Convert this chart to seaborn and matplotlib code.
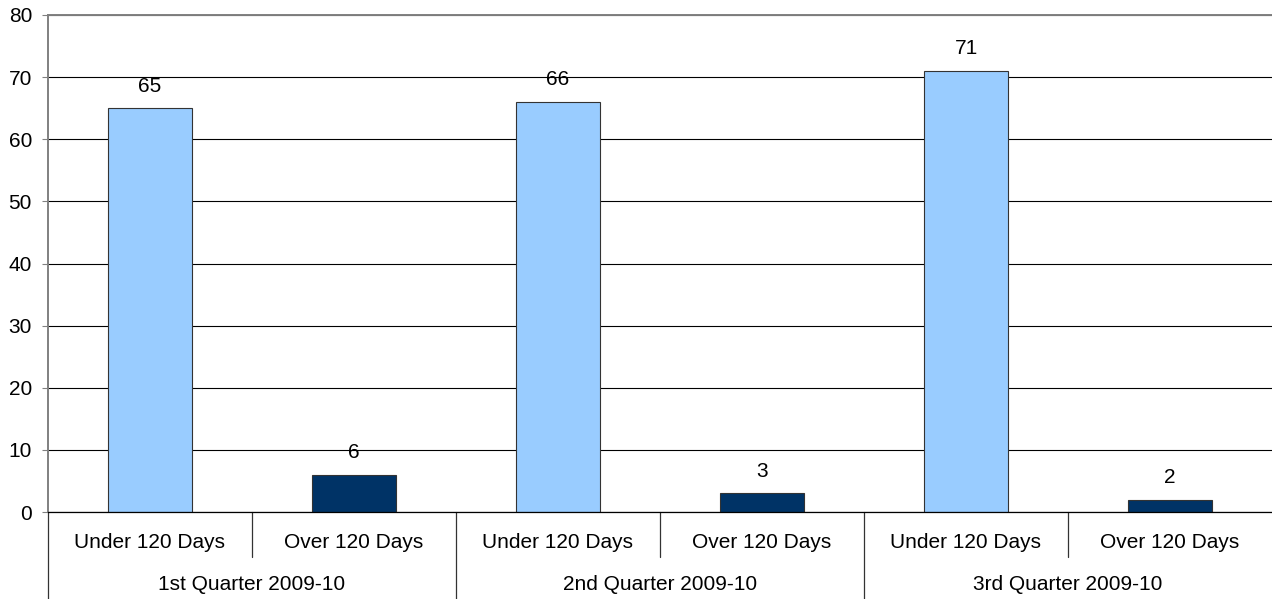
import matplotlib
matplotlib.use("Agg")
import matplotlib.pyplot as plt
from matplotlib.lines import Line2D
import seaborn as sns
import pandas as pd

# Data
quarters = ["1st Quarter 2009-10", "2nd Quarter 2009-10", "3rd Quarter 2009-10"]
periods = ["Under 120 Days", "Over 120 Days"]
under_120 = [65, 66, 71]
over_120 = [6, 3, 2]
y_ticks = [0, 10, 20, 30, 40, 50, 60, 70, 80]

rows = []
for q, u, o in zip(quarters, under_120, over_120):
    rows.append({"quarter": q, "period": periods[0], "value": u})
    rows.append({"quarter": q, "period": periods[1], "value": o})
df = pd.DataFrame(rows)
df["slot"] = df["quarter"] + " | " + df["period"]

sns.set_theme(style="white")
plt.rcParams["font.family"] = ["Liberation Sans", "DejaVu Sans"]
FS = 15

fig = plt.figure(figsize=(12.72, 5.99), dpi=100)
ax = fig.add_axes([48 / 1272, 1 - 512 / 599, 1 - 48 / 1272, (512 - 15) / 599])

sns.barplot(
    data=df, x="slot", y="value", hue="period", dodge=False, width=0.41,
    palette={periods[0]: "#99CCFF", periods[1]: "#003366"}, saturation=1,
    edgecolor="#333333", linewidth=0.8, legend=False, ax=ax,
)

for c in ax.containers:
    ax.bar_label(c, fmt="%g", padding=9, fontsize=FS, color="black")

ax.set_xlim(-0.5, 5.5)
ax.set_ylim(0, 80)
ax.set_yticks(y_ticks)
ax.set_yticklabels([str(t) for t in y_ticks], fontsize=FS)
ax.set_xticks([])
ax.set_xlabel("")
ax.set_ylabel("")
ax.tick_params(axis="y", left=True, length=4.5, width=0.8, color="#808080",
               pad=7, labelcolor="black")

ax.yaxis.grid(True, color="black", linewidth=0.8)
ax.set_axisbelow(True)
ax.spines["right"].set_visible(False)
ax.spines["top"].set_color("#808080")
ax.spines["top"].set_linewidth(1.4)
ax.spines["left"].set_color("#808080")
ax.spines["left"].set_linewidth(1.4)
ax.spines["bottom"].set_color("black")
ax.spines["bottom"].set_linewidth(0.9)

# Two-level category axis
trans = ax.get_xaxis_transform()
h = 497.0
row1 = -31 / h
row2 = -73 / h
for i, p in enumerate(df["period"]):
    ax.text(i, row1, p, transform=trans, ha="center", va="center",
            fontsize=FS, color="black", clip_on=False)
for j, q in enumerate(quarters):
    ax.text(2 * j + 0.5, row2, q, transform=trans, ha="center", va="center",
            fontsize=FS, color="black", clip_on=False)

for x in [0.5, 2.5, 4.5]:
    ax.add_line(Line2D([x, x], [0, -45 / h], transform=trans, color="#333333",
                       linewidth=0.9, clip_on=False))
for x in [-0.5, 1.5, 3.5]:
    ax.add_line(Line2D([x, x], [0, -90 / h], transform=trans, color="#333333",
                       linewidth=0.9, clip_on=False))

fig.savefig("out.png", dpi=100)
